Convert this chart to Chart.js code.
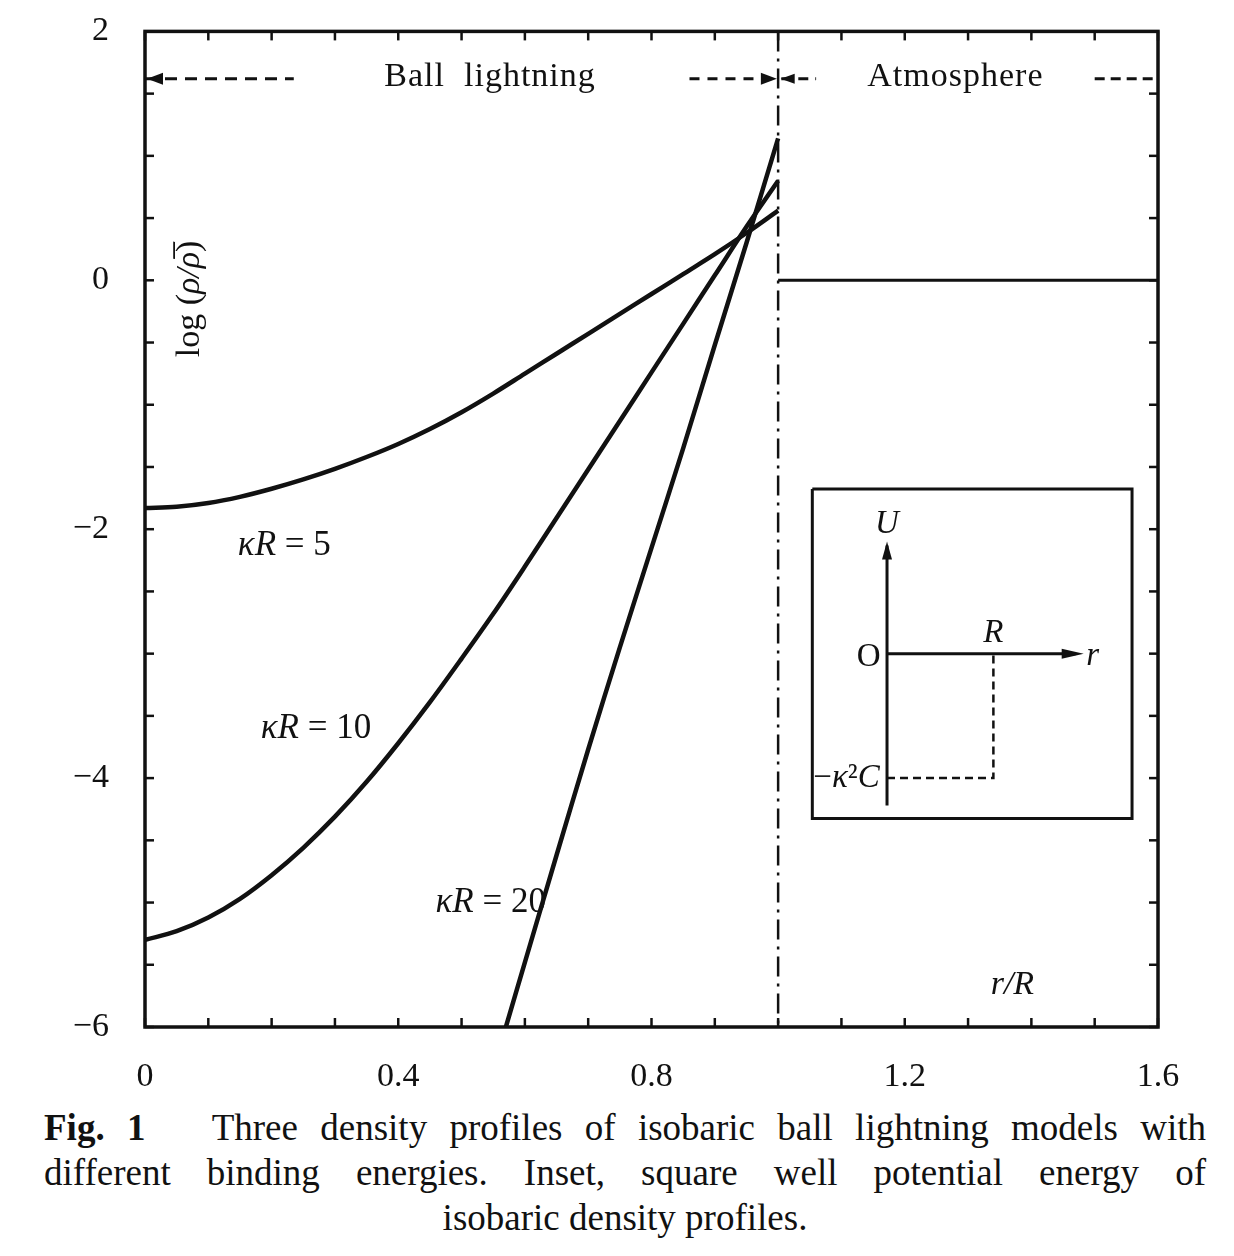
<!DOCTYPE html>
<html>
<head>
<meta charset="utf-8">
<script src="https://cdn.jsdelivr.net/npm/chart.js@4.4.0/dist/chart.umd.min.js"></script>
<style>
  body { margin: 0; background: #fff; }
  #wrap { width: 1234px; height: 1117px; overflow: visible; }
  #c { display: block; margin-top: -17px; }
  .cap { font-family: "Liberation Serif", serif; font-size: 37px; color: #111; width: 1162px; margin-left: 44px; line-height: 45px; }
  .just { text-align: justify; text-align-last: justify; }
  .mid { text-align: center; }
</style>
</head>
<body>
<div id="wrap"><canvas id="c" width="1234" height="1117"></canvas></div>
<div class="cap just" style="margin-top:5px"><b>Fig. 1</b>&nbsp;&nbsp; Three density profiles of isobaric ball lightning models with</div>
<div class="cap just">different binding energies. Inset, square well potential energy of</div>
<div class="cap mid">isobaric density profiles.</div>
<script>
// r/R sample positions for the two smooth curves
const rVals = [0, 0.05, 0.1, 0.15, 0.2, 0.25, 0.3, 0.35, 0.4, 0.45, 0.5, 0.55, 0.6, 0.65, 0.7, 0.75, 0.8, 0.85, 0.9, 0.95, 1.0];
const kr5 = [-1.83, -1.82, -1.79, -1.74, -1.675, -1.60, -1.515, -1.42, -1.315, -1.195, -1.06, -0.91, -0.75, -0.59, -0.43, -0.27, -0.11, 0.05, 0.21, 0.38, 0.56];
const kr10 = [-5.30, -5.23, -5.12, -4.97, -4.78, -4.56, -4.31, -4.03, -3.72, -3.39, -3.04, -2.68, -2.30, -1.91, -1.52, -1.13, -0.74, -0.35, 0.04, 0.43, 0.80];
// kR = 20 only enters the frame near r/R = 0.57
const r20 = [0.57, 0.6, 0.65, 0.7, 0.75, 0.8, 0.85, 0.9, 0.95, 1.0];
const kr20 = [-6.0, -5.48, -4.62, -3.77, -2.95, -2.15, -1.35, -0.52, 0.30, 1.14];
// atmosphere level outside the ball
const atmX = [1.0, 1.6];
const atmY = [0, 0];
// boundary r = R
const edgeX = [1.0, 1.0];
const edgeY = [2, -6];
// tick labels
const xTickLabels = [0, 0.4, 0.8, 1.2, 1.6];
const yTickLabels = [2, 0, -2, -4, -6];

// inset: square well
const insetBoxX = [1.054, 1.559, 1.559, 1.054, 1.054];
const insetBoxY = [-1.676, -1.676, -4.324, -4.324, -1.676];
const wellUX = [1.172, 1.172];
const wellUY = [-4.22, -2.13];
const wellRX = [1.172, 1.47];
const wellRY = [-3, -3];
const wellDashX = [1.172, 1.34, 1.34];
const wellDashY = [-4, -4, -3];

// region arrows at top
const arrowY = 1.62;
const ballDashL = [0.0, 0.235];
const ballDashR = [0.86, 0.995];
const atmDashL = [1.005, 1.06];
const atmDashR = [1.5, 1.6];

const pts = (xs, ys) => xs.map((x, i) => ({ x: x, y: ys[i] }));
const ink = '#111';

function line(xs, ys, opts) {
  return Object.assign({
    data: pts(xs, ys), borderColor: ink, borderWidth: 4.5, pointRadius: 0,
    showLine: true, fill: false, tension: 0.35
  }, opts || {});
}

const datasets = [
  line(rVals, kr5),
  line(rVals, kr10),
  line(r20, kr20),
  line(atmX, atmY, { borderWidth: 3, tension: 0 }),
  line(edgeX, edgeY, { borderWidth: 2.5, borderDash: [20, 7, 3, 7], tension: 0 }),
  line(ballDashL, [arrowY, arrowY], { borderWidth: 3, borderDash: [12, 8], tension: 0 }),
  line(ballDashR, [arrowY, arrowY], { borderWidth: 3, borderDash: [10, 8], tension: 0 }),
  line(atmDashL, [arrowY, arrowY], { borderWidth: 3, borderDash: [10, 7], tension: 0 }),
  line(atmDashR, [arrowY, arrowY], { borderWidth: 3, borderDash: [10, 6], tension: 0 }),
  line(insetBoxX, insetBoxY, { borderWidth: 3, tension: 0 }),
  line(wellUX, wellUY, { borderWidth: 3, tension: 0 }),
  line(wellRX, wellRY, { borderWidth: 3, tension: 0 }),
  line(wellDashX, wellDashY, { borderWidth: 2.5, borderDash: [8, 5], tension: 0 })
];

function near(v, list) { return list.some(t => Math.abs(t - v) < 1e-6); }

// rich text: pieces of [text, italic]
function rich(ctx, pieces, x, y, size) {
  ctx.save();
  ctx.textBaseline = 'middle';
  let w = 0;
  pieces.forEach(p => { ctx.font = (p[1] ? 'italic ' : '') + size + 'px "Liberation Serif"'; w += ctx.measureText(p[0]).width; });
  let cx = x - w / 2;
  pieces.forEach(p => {
    ctx.font = (p[1] ? 'italic ' : '') + size + 'px "Liberation Serif"';
    ctx.textAlign = 'left';
    ctx.fillText(p[0], cx, y);
    cx += ctx.measureText(p[0]).width;
  });
  ctx.restore();
}

function arrowHead(ctx, px, py, dir, len, half) {
  ctx.beginPath();
  if (dir === 'left') { ctx.moveTo(px, py); ctx.lineTo(px + len, py - half); ctx.lineTo(px + len, py + half); }
  if (dir === 'right') { ctx.moveTo(px, py); ctx.lineTo(px - len, py - half); ctx.lineTo(px - len, py + half); }
  if (dir === 'up') { ctx.moveTo(px, py); ctx.lineTo(px - half, py + len); ctx.lineTo(px + half, py + len); }
  ctx.closePath();
  ctx.fill();
}

const decor = {
  id: 'decor',
  afterDraw(chart) {
    const ctx = chart.ctx, a = chart.chartArea;
    const xs = chart.scales.x, ys = chart.scales.y;
    const X = v => xs.getPixelForValue(v), Y = v => ys.getPixelForValue(v);
    ctx.save();
    ctx.strokeStyle = ink; ctx.fillStyle = ink;
    // frame
    ctx.lineWidth = 3.5;
    ctx.strokeRect(a.left, a.top, a.right - a.left, a.bottom - a.top);
    // inward ticks on all four sides
    ctx.lineWidth = 2.5;
    xs.ticks.forEach(t => {
      const p = X(t.value);
      ctx.beginPath(); ctx.moveTo(p, a.bottom); ctx.lineTo(p, a.bottom - 9); ctx.stroke();
      ctx.beginPath(); ctx.moveTo(p, a.top); ctx.lineTo(p, a.top + 9); ctx.stroke();
    });
    ys.ticks.forEach(t => {
      const p = Y(t.value);
      ctx.beginPath(); ctx.moveTo(a.left, p); ctx.lineTo(a.left + 9, p); ctx.stroke();
      ctx.beginPath(); ctx.moveTo(a.right, p); ctx.lineTo(a.right - 9, p); ctx.stroke();
    });
    // arrowheads
    arrowHead(ctx, X(0) + 2, Y(arrowY), 'left', 16, 6);
    arrowHead(ctx, X(0.998), Y(arrowY), 'right', 16, 6);
    arrowHead(ctx, X(1.004), Y(arrowY), 'left', 14, 5);
    arrowHead(ctx, X(wellUX[1]), Y(wellUY[1]) - 4, 'up', 18, 5);
    arrowHead(ctx, X(wellRX[1]) + 8, Y(-3), 'right', 22, 5);
    // texts
    ctx.fillStyle = ink;
    ctx.save();
    ctx.font = '34px "Liberation Serif"';
    ctx.textAlign = 'center'; ctx.textBaseline = 'middle';
    ctx.letterSpacing = '1px';
    ctx.fillText('Ball  lightning', X(0.545), Y(1.63));
    ctx.fillText('Atmosphere', X(1.28), Y(1.63));
    ctx.restore();
    rich(ctx, [['\u03BAR', true], [' = 5', false]], X(0.22), Y(-2.13), 35);
    rich(ctx, [['\u03BAR', true], [' = 10', false]], X(0.27), Y(-3.6), 35);
    rich(ctx, [['\u03BAR', true], [' = 20', false]], X(0.546), Y(-5.0), 35);
    rich(ctx, [['r/R', true]], X(1.37), Y(-5.66), 34);
    rich(ctx, [['U', true]], X(1.172), Y(-1.96), 33);
    rich(ctx, [['O', false]], X(1.143), Y(-3.03), 33);
    rich(ctx, [['R', true]], X(1.34), Y(-2.84), 33);
    rich(ctx, [['r', true]], X(1.497), Y(-3.02), 33);
    rich(ctx, [['\u2212', false], ['\u03BA', true], ['\u00B2', false], ['C', true]], X(1.108), Y(-4.0), 33);
    // y title inside the frame, rotated
    ctx.save();
    ctx.translate(X(0.071), Y(-0.15));
    ctx.rotate(-Math.PI / 2);
    rich(ctx, [['log (', false], ['\u03C1/\u03C1\u0305', true], [')', false]], 0, 0, 34);
    ctx.restore();
    ctx.restore();
  }
};

new Chart(document.getElementById('c').getContext('2d'), {
  type: 'scatter',
  data: { datasets: datasets },
  options: {
    responsive: false,
    animation: false,
    devicePixelRatio: 1,
    layout: { padding: { top: 13, right: 76, left: 0, bottom: 0 } },
    plugins: { legend: { display: false }, tooltip: { enabled: false } },
    scales: {
      x: {
        type: 'linear', min: 0, max: 1.6,
        grid: { display: false }, border: { display: false },
        afterFit: s => { s.height = 73; },
        ticks: {
          stepSize: 0.1, autoSkip: false, maxRotation: 0, padding: 22, color: ink,
          font: { family: 'Liberation Serif', size: 34 },
          callback: v => near(v, xTickLabels) ? String(Math.round(v * 10) / 10) : ''
        }
      },
      y: {
        type: 'linear', min: -6, max: 2,
        grid: { display: false }, border: { display: false },
        afterFit: s => { s.width = 145; },
        ticks: {
          stepSize: 0.5, autoSkip: false, padding: 28, color: ink,
          font: { family: 'Liberation Serif', size: 34 },
          callback: v => near(v, yTickLabels) ? String(v).replace('-', '\u2212') : ''
        }
      }
    }
  },
  plugins: [decor]
});
</script>
</body>
</html>
